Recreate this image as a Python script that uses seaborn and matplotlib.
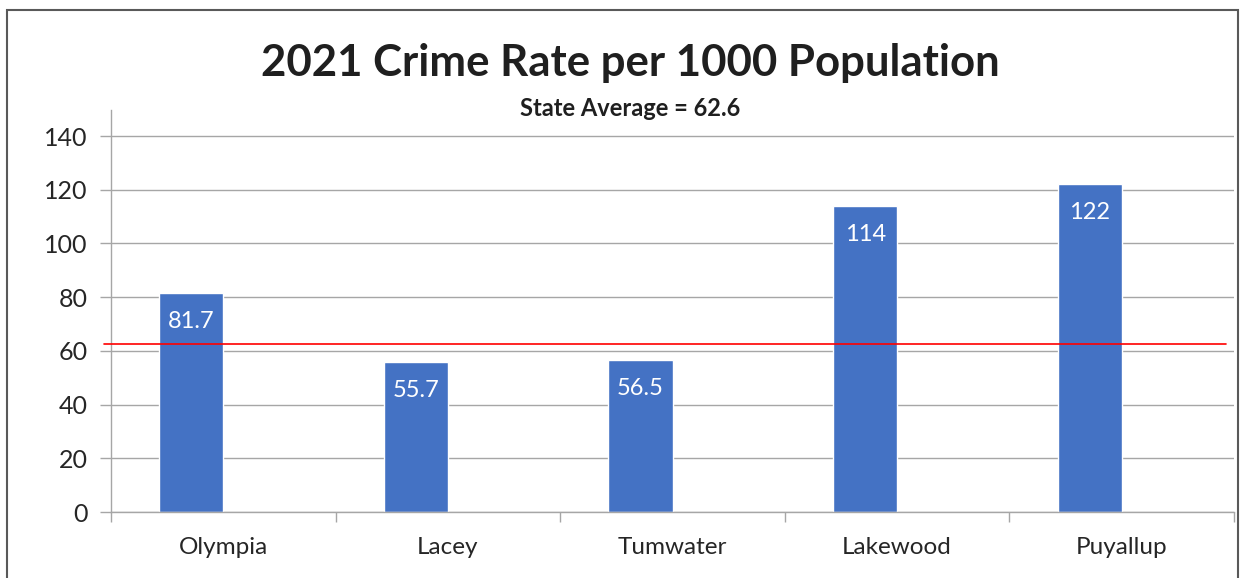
import matplotlib
matplotlib.use("Agg")
import matplotlib.pyplot as plt
import matplotlib.patches as mpatches
import seaborn as sns
import pandas as pd

cities = ["Olympia", "Lacey", "Tumwater", "Lakewood", "Puyallup"]
rates = [81.7, 55.7, 56.5, 114, 122]
rate_labels = ["81.7", "55.7", "56.5", "114", "122"]
state_average = 62.6
y_ticks = [0, 20, 40, 60, 80, 100, 120, 140]

sns.set_theme(style="white")
plt.rcParams["font.family"] = ["Lato", "DejaVu Sans"]

# Two series per city: the crime rate and an empty companion slot,
# so the rate bar sits on the left half of each category.
df = pd.DataFrame({
    "city": cities + cities,
    "rate": rates + [float("nan")] * len(cities),
    "series": ["Crime rate"] * len(cities) + ["State average"] * len(cities),
})

fig = plt.figure(figsize=(12.41, 5.78), dpi=100)
ax = fig.add_axes([111 / 1241, 1 - 512 / 578, 1123 / 1241, 402 / 578])

bar_color = "#4472C4"
sns.barplot(data=df, x="city", y="rate", hue="series", order=cities,
            hue_order=["Crime rate", "State average"],
            palette=[bar_color, "#ED7D31"], dodge=True, width=0.57,
            saturation=1, ax=ax, errorbar=None, legend=False)

ax.set_ylim(0, 149.7)
ax.set_xlim(-0.5, 4.5)
ax.set_yticks(y_ticks)
ax.set_yticklabels([str(t) for t in y_ticks], fontsize=18, color="#262626")
ax.tick_params(axis="y", length=8, width=1, color="#A6A6A6", pad=9, left=True)
ax.set_xticks(range(len(cities)))
ax.set_xticklabels(cities, fontsize=17.5, color="#262626")
ax.tick_params(axis="x", which="major", length=0, pad=18)
ax.set_xticks([i - 0.5 for i in range(len(cities) + 1)], minor=True)
ax.tick_params(axis="x", which="minor", length=7, width=1, color="#A6A6A6",
               bottom=True)
ax.set_xlabel("")
ax.set_ylabel("")

ax.yaxis.grid(True, color="#A6A6A6", linewidth=1)
ax.set_axisbelow(True)
for side in ["top", "right"]:
    ax.spines[side].set_visible(False)
ax.spines["left"].set_color("#A6A6A6")
ax.spines["bottom"].set_color("#A6A6A6")
ax.spines["left"].set_linewidth(1)
ax.spines["bottom"].set_linewidth(1)

rate_bars = ax.containers[0]
for bar, lab in zip(rate_bars, rate_labels):
    cx = bar.get_x() + bar.get_width() / 2
    ax.annotate(lab, xy=(cx, bar.get_height()), xytext=(0, -13),
                textcoords="offset points", ha="center", va="top",
                color="white", fontsize=17)

ax.axhline(state_average, xmin=-0.006, xmax=0.993, color="#FF0000",
           linewidth=1.2, clip_on=False, zorder=5)

fig.text(0.5 + 10 / 1241, 1 - 63 / 578, "2021 Crime Rate per 1000 Population",
         ha="center", va="center", fontsize=31.5, fontweight="bold",
         color="#1F1F1F")
fig.text(0.5 + 10 / 1241, 1 - 108 / 578, "State Average = 62.6",
         ha="center", va="center", fontsize=17, fontweight="bold",
         color="#1F1F1F")

frame = mpatches.Rectangle((7 / 1241, -0.05), 1231 / 1241, 1.05 - 10 / 578,
                           transform=fig.transFigure, fill=False,
                           edgecolor="#595959", linewidth=1.5)
fig.patches.append(frame)

fig.savefig("out.png", dpi=100, facecolor="white")
